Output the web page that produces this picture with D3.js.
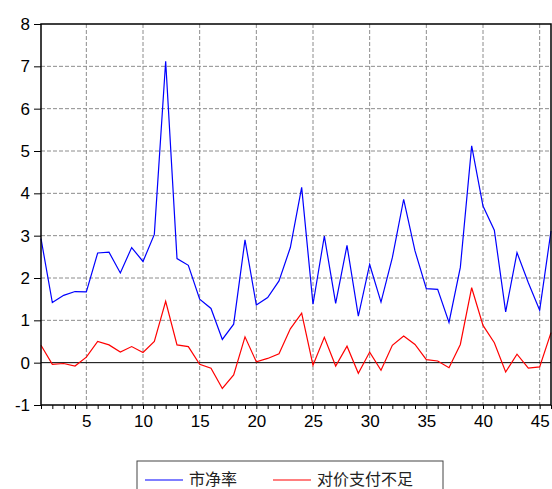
<!DOCTYPE html>
<html><head><meta charset="utf-8">
<script src="https://cdn.jsdelivr.net/npm/d3@7"></script>
<style>body{margin:0;background:#fff}svg{display:block}</style>
</head><body>
<svg id="c" width="552" height="489"></svg>
<script>
const seriesNames = ["市净率", "对价支付不足"];
const pb = [2.93,1.42,1.59,1.68,1.67,2.59,2.61,2.12,2.72,2.39,3.03,7.12,2.46,2.30,1.50,1.28,0.55,0.91,2.90,1.36,1.54,1.93,2.72,4.14,1.38,2.99,1.40,2.77,1.10,2.32,1.43,2.48,3.86,2.64,1.75,1.73,0.95,2.25,5.12,3.70,3.13,1.20,2.60,1.89,1.24,3.11];
const shortfall = [0.41,-0.04,-0.02,-0.08,0.13,0.50,0.42,0.25,0.38,0.24,0.50,1.45,0.42,0.38,-0.04,-0.13,-0.61,-0.29,0.61,0.02,0.10,0.21,0.80,1.17,-0.06,0.60,-0.08,0.39,-0.25,0.25,-0.18,0.41,0.63,0.43,0.07,0.04,-0.12,0.43,1.77,0.88,0.47,-0.22,0.20,-0.13,-0.10,0.71];
const xTicks = [5,10,15,20,25,30,35,40,45];
const yTicks = [-1,0,1,2,3,4,5,6,7,8];

const svg = d3.select("#c");
const L = 41, R = 551, T = 24, B = 405;
const x = d3.scaleLinear().domain([1,46]).range([L,R]);
const y = d3.scaleLinear().domain([-1,8]).range([B,T]);
const font = "Arial, 'Liberation Sans', sans-serif";

// grid
const g = svg.append("g");
g.selectAll("line.vg").data(xTicks).join("line")
  .attr("x1", d=>x(d)).attr("x2", d=>x(d)).attr("y1", T).attr("y2", B)
  .attr("stroke", "#8c8c8c").attr("stroke-dasharray", "4,2").attr("stroke-width", 1);
g.selectAll("line.hg").data(yTicks.filter(d=>d>0 && d<8)).join("line")
  .attr("x1", L).attr("x2", R).attr("y1", d=>y(d)).attr("y2", d=>y(d))
  .attr("stroke", "#8c8c8c").attr("stroke-dasharray", "4,2").attr("stroke-width", 1);
// zero line
svg.append("line").attr("x1", L).attr("x2", R).attr("y1", y(0)).attr("y2", y(0))
  .attr("stroke", "#000").attr("stroke-width", 1);

// lines
const line = d3.line().x((d,i)=>x(i+1)).y(d=>y(d));
svg.append("path").datum(pb).attr("d", line).attr("fill","none").attr("stroke","#0000ff").attr("stroke-width",1.2);
svg.append("path").datum(shortfall).attr("d", line).attr("fill","none").attr("stroke","#ff0000").attr("stroke-width",1.2);

// frame
svg.append("rect").attr("x", L).attr("y", T).attr("width", R-L).attr("height", B-T)
  .attr("fill","none").attr("stroke","#000").attr("stroke-width",1.5);

// axes
const xa = svg.append("g").attr("transform", `translate(0,${B})`)
  .call(d3.axisBottom(x).tickValues(d3.range(1,47)).tickSize(4).tickFormat(d => xTicks.includes(d) ? String(d) : ""));
xa.select(".domain").remove();
xa.selectAll("text").attr("font-family", font).attr("font-size", 17).attr("fill","#000").attr("dy","0.9em");
const ya = svg.append("g").attr("transform", `translate(${L},0)`)
  .call(d3.axisLeft(y).tickValues(yTicks).tickSize(7).tickPadding(4).tickFormat(d => String(d)));
ya.select(".domain").remove();
ya.selectAll("text").attr("font-family", font).attr("font-size", 17).attr("fill","#000");

// legend
const lg = svg.append("g");
lg.append("rect").attr("x", 137).attr("y", 461).attr("width", 306).attr("height", 40)
  .attr("fill","#fff").attr("stroke","#444").attr("stroke-width",1);
const items = [{n:seriesNames[0], c:"#0000ff", x0:145},{n:seriesNames[1], c:"#ff0000", x0:273}];
items.forEach(it=>{
  lg.append("line").attr("x1", it.x0).attr("x2", it.x0+38).attr("y1", 480).attr("y2", 480)
    .attr("stroke", it.c).attr("stroke-width", 1.2);
  lg.append("text").attr("x", it.x0+44).attr("y", 479).attr("dy","0.35em")
    .attr("font-family","'Noto Sans CJK SC', sans-serif").attr("font-size",16).attr("fill","#222").text(it.n);
});
</script>
</body></html>
